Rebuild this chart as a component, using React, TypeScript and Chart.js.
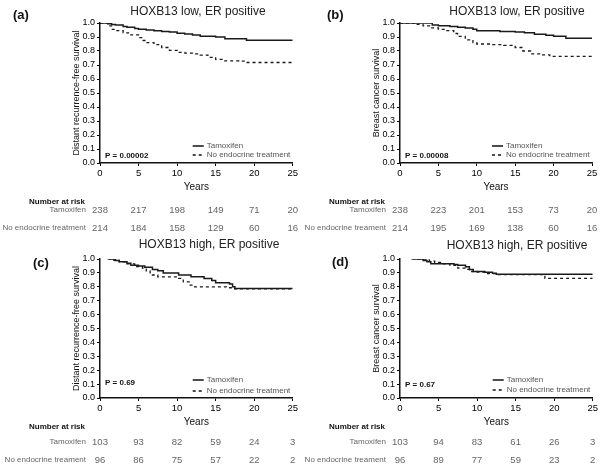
import React, { useEffect, useRef } from 'react';
import { Chart, registerables } from 'chart.js';

Chart.register(...registerables);

const FONT = '"Liberation Sans", Arial, Helvetica, sans-serif';

// ---------- data ----------
const xTickValues = [0, 5, 10, 15, 20, 25];
const riskTimes = [0, 5, 10, 15, 20, 25];

const aTamoxifen: [number, number][] = [[0, 1], [1, 0.995], [1.5, 0.99], [2, 0.985], [3, 0.975], [3.5, 0.97], [4.5, 0.96], [5, 0.955], [6, 0.95], [7, 0.945], [8, 0.94], [9, 0.935], [10, 0.927], [11, 0.922], [12, 0.915], [13, 0.906], [15, 0.9], [16.2, 0.888], [19, 0.877], [25, 0.877]];
const aNoEndocrine: [number, number][] = [[0, 1], [1, 0.98], [1.5, 0.955], [2, 0.945], [3, 0.93], [4, 0.915], [5, 0.895], [5.5, 0.875], [6, 0.86], [7, 0.845], [8, 0.825], [9, 0.805], [10, 0.79], [11, 0.785], [12, 0.78], [13, 0.77], [14, 0.755], [15, 0.74], [16, 0.73], [18, 0.727], [19, 0.718], [25, 0.718]];
const bTamoxifen: [number, number][] = [[0, 1], [4, 1], [4.2, 0.985], [5, 0.98], [6.5, 0.975], [7.5, 0.97], [8.5, 0.965], [9.5, 0.955], [10, 0.945], [13, 0.94], [15, 0.935], [16.2, 0.93], [17.5, 0.92], [19, 0.912], [20, 0.906], [21.6, 0.891], [25, 0.891]];
const bNoEndocrine: [number, number][] = [[0, 1], [1.5, 1], [2, 0.99], [3, 0.98], [4, 0.965], [5, 0.955], [6, 0.945], [7, 0.925], [7.5, 0.905], [8.5, 0.88], [9.5, 0.86], [10, 0.85], [12, 0.845], [13.5, 0.84], [15, 0.825], [16, 0.8], [17, 0.78], [18.5, 0.772], [19.5, 0.762], [25, 0.762]];
const cTamoxifen: [number, number][] = [[1.2, 1], [2, 0.99], [2.5, 0.98], [3.5, 0.97], [4, 0.955], [5, 0.95], [5.8, 0.94], [6.8, 0.925], [7.5, 0.915], [8.2, 0.9], [10.2, 0.885], [11.8, 0.872], [13.5, 0.86], [14.5, 0.845], [15, 0.83], [16.8, 0.82], [17.2, 0.8], [17.5, 0.788], [25, 0.788]];
const cNoEndocrine: [number, number][] = [[1, 1], [1.8, 0.99], [2.5, 0.98], [3.5, 0.965], [4.5, 0.945], [5.5, 0.935], [6, 0.915], [6.5, 0.885], [7.5, 0.872], [10.2, 0.86], [10.8, 0.835], [11.7, 0.812], [12.3, 0.8], [16.4, 0.793], [17.3, 0.786], [25, 0.786]];
const dTamoxifen: [number, number][] = [[1.8, 1], [3, 0.99], [3.5, 0.98], [4, 0.965], [7, 0.96], [7.5, 0.955], [8.5, 0.945], [9, 0.925], [9.5, 0.91], [11, 0.905], [12, 0.897], [12.5, 0.89], [25, 0.89]];
const dNoEndocrine: [number, number][] = [[1.5, 1], [3.5, 1], [3.8, 0.985], [4.5, 0.975], [5.5, 0.965], [6.5, 0.955], [7.5, 0.935], [8.5, 0.925], [9, 0.91], [10, 0.905], [11, 0.895], [12.5, 0.887], [18.7, 0.884], [18.8, 0.86], [25, 0.86]];

const aRiskTamoxifen = [238, 217, 198, 149, 71, 20];
const aRiskNoEndocrine = [214, 184, 158, 129, 60, 16];
const bRiskTamoxifen = [238, 223, 201, 153, 73, 20];
const bRiskNoEndocrine = [214, 195, 169, 138, 60, 16];
const cRiskTamoxifen = [103, 93, 82, 59, 24, 3];
const cRiskNoEndocrine = [96, 86, 75, 57, 22, 2];
const dRiskTamoxifen = [103, 94, 83, 61, 26, 3];
const dRiskNoEndocrine = [96, 89, 77, 59, 23, 2];

// ---------- panels ----------
type Layout = {
  left: number; top: number;
  plotTop: number; plotBottom: number; plotLeft: number; plotRight: number;
  labelX: number; labelY: number; titleX: number; titleY: number; yTitleX: number;
  yearsY: number; narY: number; row1Y: number; row2Y: number;
  leg1Y: number; leg2Y: number; pY: number;
};

type PanelDef = {
  label: string; title: string; yTitle: string; pValue: string; noLabel: string;
  tam: [number, number][]; no: [number, number][];
  riskTam: number[]; riskNo: number[];
  layout: Layout;
};

const panels: PanelDef[] = [
  {
    label: '(a)', title: 'HOXB13 low, ER positive', yTitle: 'Distant recurrence-free survival',
    pValue: 'P = 0.00002', noLabel: 'No endocrine treatment',
    tam: aTamoxifen, no: aNoEndocrine, riskTam: aRiskTamoxifen, riskNo: aRiskNoEndocrine,
    layout: { left: 0, top: 0, plotTop: 23, plotBottom: 163, plotLeft: 100, plotRight: 293, labelX: 13, labelY: 15, titleX: 198, titleY: 12, yTitleX: 77, yearsY: 187, narY: 202, row1Y: 210, row2Y: 228, leg1Y: 146, leg2Y: 155, pY: 156 },
  },
  {
    label: '(b)', title: 'HOXB13 low, ER positive', yTitle: 'Breast cancer survival',
    pValue: 'P = 0.00008', noLabel: 'No endocrine treament',
    tam: bTamoxifen, no: bNoEndocrine, riskTam: bRiskTamoxifen, riskNo: bRiskNoEndocrine,
    layout: { left: 300, top: 0, plotTop: 23, plotBottom: 163, plotLeft: 100, plotRight: 292, labelX: 27, labelY: 15, titleX: 217, titleY: 12, yTitleX: 77, yearsY: 187, narY: 202, row1Y: 210, row2Y: 228, leg1Y: 146, leg2Y: 155, pY: 156 },
  },
  {
    label: '(c)', title: 'HOXB13 high, ER positive', yTitle: 'Distant recurrence-free survival',
    pValue: 'P = 0.69', noLabel: 'No endocrine treament',
    tam: cTamoxifen, no: cNoEndocrine, riskTam: cRiskTamoxifen, riskNo: cRiskNoEndocrine,
    layout: { left: 0, top: 234, plotTop: 25, plotBottom: 164, plotLeft: 100, plotRight: 293, labelX: 33, labelY: 29, titleX: 209, titleY: 11, yTitleX: 77, yearsY: 188, narY: 193, row1Y: 208, row2Y: 226, leg1Y: 146, leg2Y: 157, pY: 149 },
  },
  {
    label: '(d)', title: 'HOXB13 high, ER positive', yTitle: 'Breast cancer survival',
    pValue: 'P = 0.67', noLabel: 'No endocrine treament',
    tam: dTamoxifen, no: dNoEndocrine, riskTam: dRiskTamoxifen, riskNo: dRiskNoEndocrine,
    layout: { left: 300, top: 234, plotTop: 25, plotBottom: 164, plotLeft: 100, plotRight: 293, labelX: 32, labelY: 28, titleX: 217, titleY: 12, yTitleX: 77, yearsY: 188, narY: 193, row1Y: 208, row2Y: 226, leg1Y: 146, leg2Y: 156, pY: 151 },
  },
];

const W = 300;
const H = 234;

function Panel({ def }: { def: PanelDef }) {
  const ref = useRef<HTMLCanvasElement | null>(null);

  useEffect(() => {
    const canvas = ref.current;
    if (!canvas) return;
    const L = def.layout;

    const extras = {
      id: 'extras',
      afterDraw(chart: any) {
        const ctx: CanvasRenderingContext2D = chart.ctx;
        const xs = chart.scales.x;
        const ca = chart.chartArea;
        ctx.save();
        ctx.textBaseline = 'middle';

        // panel label
        ctx.fillStyle = '#111';
        ctx.textAlign = 'left';
        ctx.font = `bold 13px ${FONT}`;
        ctx.fillText(def.label, L.labelX, L.labelY);

        // title
        ctx.fillStyle = '#222';
        ctx.textAlign = 'center';
        ctx.font = `12px ${FONT}`;
        ctx.fillText(def.title, L.titleX, L.titleY);

        // y-axis title
        ctx.save();
        ctx.translate(L.yTitleX, (ca.top + ca.bottom) / 2);
        ctx.rotate(-Math.PI / 2);
        ctx.fillStyle = '#111';
        ctx.font = `9px ${FONT}`;
        ctx.fillText(def.yTitle, 0, 0);
        ctx.restore();

        // x-axis title
        ctx.fillStyle = '#111';
        ctx.font = `10px ${FONT}`;
        ctx.fillText('Years', xs.getPixelForValue(12.5), L.yearsY);

        // legend
        const lx0 = ca.right - 100;
        const lx1 = ca.right - 89;
        ctx.strokeStyle = '#111';
        ctx.lineWidth = 1.5;
        ctx.setLineDash([]);
        ctx.beginPath();
        ctx.moveTo(lx0, L.leg1Y);
        ctx.lineTo(lx1, L.leg1Y);
        ctx.stroke();
        ctx.setLineDash([3, 3]);
        ctx.beginPath();
        ctx.moveTo(lx0, L.leg2Y);
        ctx.lineTo(lx1 + 1, L.leg2Y);
        ctx.stroke();
        ctx.setLineDash([]);
        ctx.fillStyle = '#555';
        ctx.textAlign = 'left';
        ctx.font = `8px ${FONT}`;
        ctx.fillText('Tamoxifen', lx1 + 3, L.leg1Y);
        ctx.fillText('No endocrine treatment', lx1 + 3, L.leg2Y);

        // p value
        ctx.fillStyle = '#111';
        ctx.font = `bold 8px ${FONT}`;
        ctx.fillText(def.pValue, ca.left + 5, L.pY);

        // number at risk table
        ctx.textAlign = 'right';
        ctx.font = `bold 8px ${FONT}`;
        ctx.fillStyle = '#111';
        ctx.fillText('Number at risk', 85, L.narY);
        ctx.font = `8px ${FONT}`;
        ctx.fillStyle = '#666';
        ctx.fillText('Tamoxifen', 86, L.row1Y);
        ctx.fillText(def.noLabel, 86, L.row2Y);
        ctx.textAlign = 'center';
        ctx.font = `9.5px ${FONT}`;
        riskTimes.forEach((t, i) => {
          const px = xs.getPixelForValue(t);
          ctx.fillText(String(def.riskTam[i]), px, L.row1Y);
          ctx.fillText(String(def.riskNo[i]), px, L.row2Y);
        });
        ctx.restore();
      },
    };

    const toPts = (arr: [number, number][]) => arr.map(([x, y]) => ({ x, y }));

    const chart = new Chart(canvas, {
      type: 'line',
      data: {
        datasets: [
          {
            label: 'Tamoxifen',
            data: toPts(def.tam),
            stepped: true,
            borderColor: '#1a1a1a',
            borderWidth: 1.5,
            pointRadius: 0,
            fill: false,
          },
          {
            label: 'No endocrine treatment',
            data: toPts(def.no),
            stepped: true,
            borderColor: '#1a1a1a',
            borderWidth: 1.3,
            borderDash: [3, 3],
            pointRadius: 0,
            fill: false,
          },
        ],
      },
      options: {
        responsive: false,
        animation: false,
        devicePixelRatio: 1,
        parsing: false as any,
        layout: { padding: { left: 0, right: W - L.plotRight, top: L.plotTop, bottom: 0 } },
        plugins: { legend: { display: false }, tooltip: { enabled: false }, title: { display: false } },
        scales: {
          x: {
            type: 'linear',
            min: 0,
            max: 25,
            afterFit: (s: any) => { s.height = H - L.plotBottom; },
            afterBuildTicks: (s: any) => { s.ticks = xTickValues.map((v) => ({ value: v })); },
            ticks: { color: '#000', font: { family: FONT, size: 9.5 }, padding: 2, maxRotation: 0, autoSkip: false },
            grid: { display: true, drawOnChartArea: false, drawTicks: true, tickLength: 3, color: '#000', lineWidth: 1 },
            border: { display: true, color: '#111', width: 1.5 },
          },
          y: {
            type: 'linear',
            min: 0,
            max: 1,
            afterFit: (s: any) => { s.width = L.plotLeft; },
            ticks: {
              stepSize: 0.1,
              color: '#000',
              font: { family: FONT, size: 9 },
              padding: 2,
              callback: (v: any) => Number(v).toFixed(1),
            },
            grid: { display: true, drawOnChartArea: false, drawTicks: true, tickLength: 3, color: '#000', lineWidth: 1 },
            border: { display: true, color: '#111', width: 1.5 },
          },
        },
      },
      plugins: [extras],
    } as any);

    return () => chart.destroy();
  }, [def]);

  return (
    <canvas
      ref={ref}
      width={W}
      height={H}
      style={{ position: 'absolute', left: def.layout.left, top: def.layout.top, width: W, height: H }}
    />
  );
}

export default function App() {
  return (
    <div style={{ position: 'fixed', left: 0, top: 0, width: 600, height: 468, background: '#fff', overflow: 'hidden' }}>
      {panels.map((p) => (
        <Panel key={p.label} def={p} />
      ))}
    </div>
  );
}
